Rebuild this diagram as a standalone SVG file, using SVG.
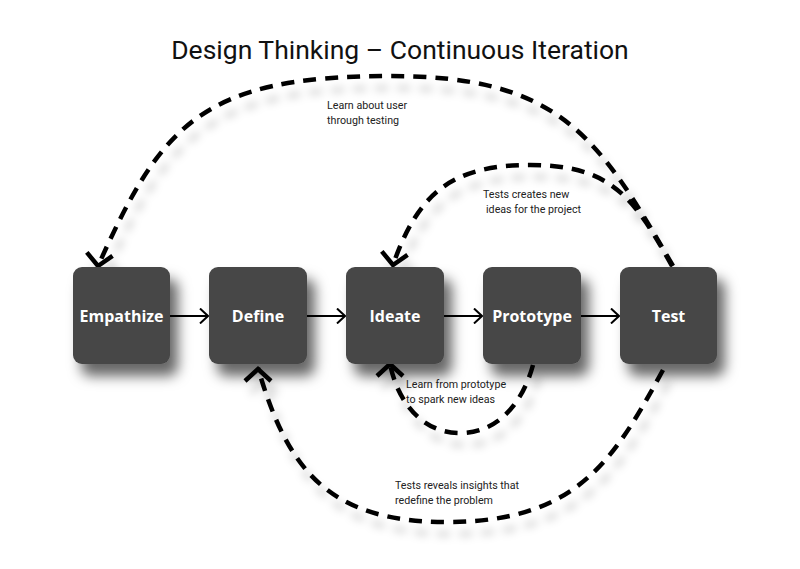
<svg xmlns="http://www.w3.org/2000/svg" xmlns:xlink="http://www.w3.org/1999/xlink" width="800" height="569" viewBox="0 0 800 569">
  <style>
    .title { font-family: Roboto, "Liberation Sans", sans-serif; font-size: 26.5px; fill: #111; }
    .box { fill: #464646; }
    .boxlabel { font-family: "Open Sans", "Liberation Sans", sans-serif; font-weight: 700; font-size: 16px; fill: #ffffff; text-anchor: middle; }
    .flow { stroke: #000; stroke-width: 2; fill: none; }
    .loop { stroke: #000; stroke-width: 4.5; fill: none; stroke-dasharray: 13 9; }
    .head { stroke: #000; stroke-width: 4.5; fill: none; stroke-linecap: butt; stroke-linejoin: miter; }
    .note { font-family: Roboto, "Liberation Sans", sans-serif; font-size: 10.7px; fill: #222; }
  </style>
  <defs>
    <filter id="boxShadow" x="-30%" y="-30%" width="170%" height="170%">
      <feDropShadow dx="8" dy="12" stdDeviation="6.5" flood-color="#000" flood-opacity="0.6"/>
    </filter>
    <filter id="lineShadow" x="-20%" y="-20%" width="140%" height="160%">
      <feDropShadow dx="6" dy="12" stdDeviation="4" flood-color="#000" flood-opacity="0.2"/>
    </filter>
    <marker id="open" viewBox="0 0 10 16" refX="9" refY="8" markerWidth="10" markerHeight="16" markerUnits="userSpaceOnUse" orient="auto">
      <path d="M1,0.5 L9,8 L1,15.5" fill="none" stroke="#000" stroke-width="2"/>
    </marker>
    <polyline id="chevDown" points="-13,-12 0,0 13,-12"/>
    <polyline id="chevUp" points="-13,12 0,0 13,12"/>
  </defs>

  <rect width="800" height="569" fill="#ffffff"/>

  <text class="title" x="400" y="59" text-anchor="middle">Design Thinking – Continuous Iteration</text>

  <g id="connectors">
    <g id="flow-arrows">
      <line class="flow" x1="170" y1="316" x2="208" y2="316" marker-end="url(#open)"/>
      <line class="flow" x1="307" y1="316" x2="345" y2="316" marker-end="url(#open)"/>
      <line class="flow" x1="444" y1="316" x2="482" y2="316" marker-end="url(#open)"/>
      <line class="flow" x1="581" y1="316" x2="619" y2="316" marker-end="url(#open)"/>
    </g>
    <g id="loops" filter="url(#lineShadow)">
      <path class="loop" d="M673,266 C598,136 560,76 390,76 C200,76 161,126 98,266"/>
      <path class="loop" d="M672,266 C633.5,196 610,165 530,165 C450,165 417.5,195 393,265"/>
      <path class="loop" d="M663,370 C614,460 577,522 447,522 C327,522 287,468 258,368"/>
      <path class="loop" d="M533,365 C523.5,400 500,433 460,433 C420,433 397,399 390,364"/>
      <use xlink:href="#chevDown" class="head" transform="translate(98,266) rotate(8)"/>
      <use xlink:href="#chevDown" class="head" transform="translate(393,265) rotate(8)"/>
      <use xlink:href="#chevUp" class="head" transform="translate(258,369)"/>
      <use xlink:href="#chevUp" class="head" transform="translate(390,364)"/>
    </g>
    <g id="loop-labels">
      <text class="note" x="327" y="109">Learn about user</text>
      <text class="note" x="327" y="124">through testing</text>
      <text class="note" x="483" y="198">Tests creates new</text>
      <text class="note" x="486" y="213">ideas for the project</text>
      <text class="note" x="406" y="388">Learn from prototype</text>
      <text class="note" x="406" y="403">to spark new ideas</text>
      <text class="note" x="395" y="489">Tests reveals insights that</text>
      <text class="note" x="395" y="504">redefine the problem</text>
    </g>
  </g>

  <g id="empathize">
    <rect class="box" x="73" y="267" width="97" height="97" rx="9" filter="url(#boxShadow)"/>
    <text class="boxlabel" x="121.5" y="322">Empathize</text>
  </g>
  <g id="define">
    <rect class="box" x="209" y="267" width="98" height="97" rx="9" filter="url(#boxShadow)"/>
    <text class="boxlabel" x="258" y="322">Define</text>
  </g>
  <g id="ideate">
    <rect class="box" x="346" y="267" width="98" height="97" rx="9" filter="url(#boxShadow)"/>
    <text class="boxlabel" x="395" y="322">Ideate</text>
  </g>
  <g id="prototype">
    <rect class="box" x="483" y="267" width="98" height="97" rx="9" filter="url(#boxShadow)"/>
    <text class="boxlabel" x="532" y="322">Prototype</text>
  </g>
  <g id="test">
    <rect class="box" x="620" y="267" width="97" height="97" rx="9" filter="url(#boxShadow)"/>
    <text class="boxlabel" x="668.5" y="322">Test</text>
  </g>
</svg>
